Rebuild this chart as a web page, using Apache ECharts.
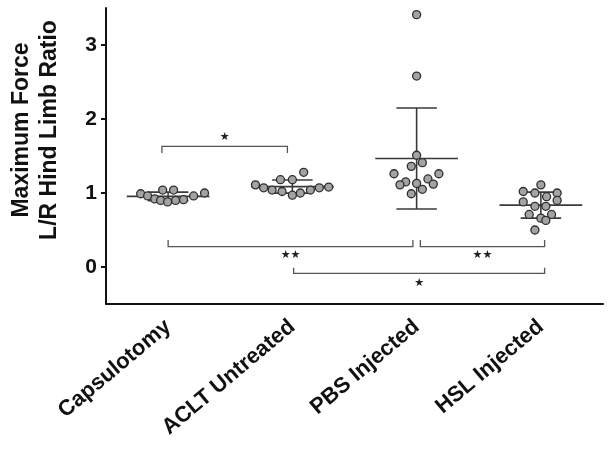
<!DOCTYPE html>
<html><head><meta charset="utf-8">
<script src="https://cdn.jsdelivr.net/npm/echarts@6/dist/echarts.min.js"></script>
<style>html,body{margin:0;padding:0;background:#fff}#c{width:612px;height:452px}</style>
</head><body><div id="c"></div>
<script>
// ---- data ----
const categories = ['Capsulotomy', 'ACLT Untreated', 'PBS Injected', 'HSL Injected'];
const yTicks = [0, 1, 2, 3];

const capsulotomy = [0.99, 0.96, 0.92, 0.90, 1.04, 0.88, 1.04, 0.90, 0.91, 0.96, 1.00];
const capsulotomyJitter = [-0.221, -0.165, -0.108, -0.060, -0.044, -0.004, 0.044, 0.060, 0.124, 0.205, 0.293];

const aclt = [1.11, 1.07, 1.04, 1.18, 1.02, 1.18, 0.97, 1.00, 1.28, 1.04, 1.07, 1.08];
const acltJitter = [-0.297, -0.231, -0.163, -0.096, -0.083, 0, 0, 0.064, 0.091, 0.145, 0.217, 0.292];

const pbs = [3.41, 2.58, 1.51, 1.41, 1.36, 1.26, 1.26, 1.15, 1.11, 1.13, 1.19, 1.12, 1.05, 0.99];
const pbsJitter = [0, 0, 0, 0.046, -0.043, -0.182, 0.179, -0.088, -0.134, 0, 0.091, 0.134, 0.046, -0.043];

const hsl = [1.11, 1.02, 1.00, 1.00, 0.95, 0.90, 0.88, 0.82, 0.82, 0.71, 0.71, 0.66, 0.63, 0.50];
const hslJitter = [0, -0.142, -0.048, 0.131, 0.046, 0.131, -0.142, -0.048, 0.040, -0.094, 0.086, 0, 0.040, -0.048];

// significance brackets (category units / value units)
const brackets = [
  { from: -0.05, to: 0.96, y: 1.63, tip: 1.54, label: '★', labelY: 1.76 },
  { from: 0.0, to: 1.97, y: 0.275, tip: 0.365, label: '★★', labelY: 0.16 },
  { from: 2.03, to: 3.03, y: 0.275, tip: 0.365, label: '★★', labelY: 0.16 },
  { from: 1.01, to: 3.03, y: -0.085, tip: -0.01, label: '★', labelY: -0.215 }
];

// ---- build ----
const groups = [capsulotomy, aclt, pbs, hsl];
const jitters = [capsulotomyJitter, acltJitter, pbsJitter, hslJitter];

const points = [];
groups.forEach((g, i) => g.forEach((v, k) => points.push([i + jitters[i][k], v])));

const stats = groups.map((g, i) => {
  const m = g.reduce((a, b) => a + b, 0) / g.length;
  const sd = Math.sqrt(g.reduce((a, b) => a + (b - m) * (b - m), 0) / (g.length - 1));
  return [i, m, sd];
});

const lineCol = '#3a3a3a';
const chart = echarts.init(document.getElementById('c'), null, { renderer: 'canvas' });
chart.setOption({
  animation: false,
  backgroundColor: '#fff',
  grid: { left: 106, right: 9, top: 8, bottom: 148, containLabel: false },
  xAxis: [
    {
      type: 'category', data: categories, position: 'bottom',
      axisLine: { onZero: false, lineStyle: { color: '#111', width: 2 } },
      axisTick: { alignWithLabel: true, length: 5, lineStyle: { color: '#111', width: 2 } },
      axisLabel: { rotate: 40, interval: 0, margin: 20, fontSize: 22, fontWeight: 'bold',
                   color: '#111', fontFamily: '"Liberation Sans", Arial, sans-serif' },
      splitLine: { show: false }
    },
    { type: 'value', min: -0.5, max: 3.5, show: false, axisLine: { onZero: false }, splitLine: { show: false } }
  ],
  yAxis: {
    type: 'value', min: -0.5, max: 3.5,
    axisLine: { show: true, onZero: false, lineStyle: { color: '#111', width: 2 } },
    axisTick: { show: true, length: 5, customValues: yTicks, lineStyle: { color: '#111', width: 2 } },
    axisLabel: { customValues: yTicks, margin: 9, fontSize: 21, fontWeight: 'bold', color: '#111',
                 fontFamily: '"Liberation Sans", Arial, sans-serif' },
    splitLine: { show: false }
  },
  graphic: [{
    type: 'text', x: 36, y: 130, rotation: Math.PI / 2,
    style: {
      text: 'Maximum Force\nL/R Hind Limb Ratio', textAlign: 'center', textVerticalAlign: 'middle',
      font: 'bold 23px "Liberation Sans", Arial, sans-serif', lineHeight: 28, fill: '#111'
    }
  }],
  series: [
    {
      type: 'custom', xAxisIndex: 1, data: stats, z: 2,
      renderItem: function (params, api) {
        const i = api.value(0), m = api.value(1), sd = api.value(2);
        const seg = (x1, y1, x2, y2) => {
          const a = api.coord([x1, y1]), b = api.coord([x2, y2]);
          return { type: 'line', shape: { x1: a[0], y1: a[1], x2: b[0], y2: b[1] },
                   style: { stroke: lineCol, lineWidth: 1.6 } };
        };
        return { type: 'group', children: [
          seg(i - 0.333, m, i + 0.333, m),
          seg(i, m - sd, i, m + sd),
          seg(i - 0.163, m + sd, i + 0.163, m + sd),
          seg(i - 0.163, m - sd, i + 0.163, m - sd)
        ] };
      }
    },
    {
      type: 'scatter', xAxisIndex: 1, data: points, z: 3,
      symbol: 'circle', symbolSize: 8,
      itemStyle: { color: '#a3a3a3', borderColor: '#2e2e2e', borderWidth: 1.3, opacity: 1 }
    },
    {
      type: 'custom', xAxisIndex: 1, z: 2,
      data: brackets.map(b => [b.from, b.to, b.y, b.tip, b.labelY]),
      renderItem: function (params, api) {
        const b = brackets[params.dataIndex];
        const p1 = api.coord([b.from, b.y]), p2 = api.coord([b.to, b.y]);
        const t1 = api.coord([b.from, b.tip]), t2 = api.coord([b.to, b.tip]);
        const lp = api.coord([(b.from + b.to) / 2, b.labelY]);
        const st = { stroke: '#555', lineWidth: 1.3, fill: null };
        return { type: 'group', children: [
          { type: 'polyline', shape: { points: [t1, p1, p2, t2] }, style: st },
          { type: 'text', x: lp[0], y: lp[1], style: { text: b.label, fill: '#222',
            font: '11px "DejaVu Sans", sans-serif', textAlign: 'center', textVerticalAlign: 'middle' } }
        ] };
      }
    }
  ]
});
</script>
</body></html>
